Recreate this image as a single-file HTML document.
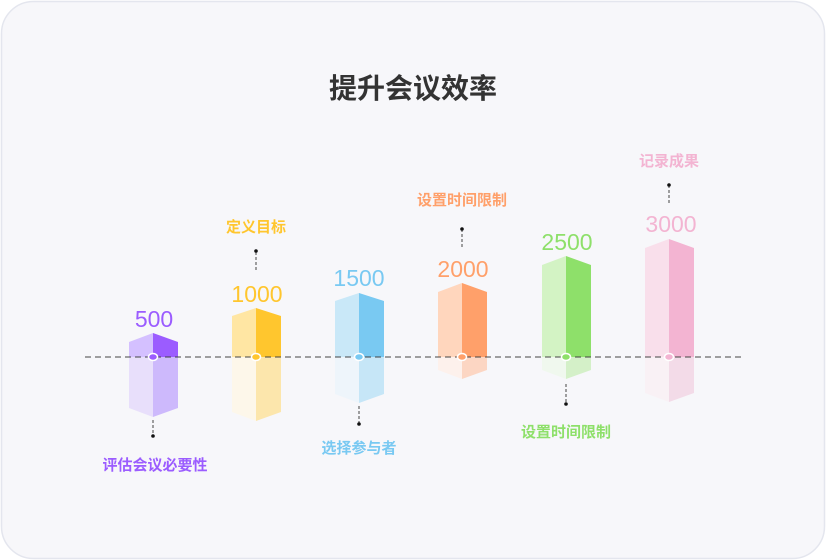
<!DOCTYPE html>
<html><head><meta charset="utf-8"><style>
html,body{margin:0;padding:0;background:#fff;width:826px;height:560px;overflow:hidden}
svg{display:block}
text{font-family:"Liberation Sans","Noto Sans CJK SC",sans-serif}
</style></head><body>
<svg width="826" height="560" viewBox="0 0 826 560" xmlns="http://www.w3.org/2000/svg">
<rect x="1.5" y="1.5" width="823" height="557" rx="32" fill="#f7f7fa" stroke="#e4e6ee" stroke-width="1.5"/>
<text x="413" y="98" text-anchor="middle" font-size="28" font-weight="bold" fill="#333">提升会议效率</text>

<g>
<polygon points="129,342 153,333 153,357 129,357" fill="#d4c0ff"/>
<polygon points="153,333 178,342 178,357 153,357" fill="#9b5cff"/>
<polygon points="129,357 153,357 153,417 129,408" fill="#e8dffb"/>
<polygon points="153,357 178,357 178,408 153,417" fill="#cdb9fc"/>
</g>
<g>
<polygon points="232,316 256,308 256,357 232,357" fill="#ffe6a3"/>
<polygon points="256,308 281,316 281,357 256,357" fill="#ffc62e"/>
<polygon points="232,357 256,357 256,421 232,412" fill="#fdf7ea"/>
<polygon points="256,357 281,357 281,412 256,421" fill="#fce6ac"/>
</g>
<g>
<polygon points="335,301 359,293 359,357 335,357" fill="#c9e8f8"/>
<polygon points="359,293 384,301 384,357 359,357" fill="#79c9f2"/>
<polygon points="335,357 359,357 359,403 335,394" fill="#eef5fb"/>
<polygon points="359,357 384,357 384,394 359,403" fill="#c6e6f7"/>
</g>
<g>
<polygon points="438,292 462,283 462,357 438,357" fill="#ffd6bd"/>
<polygon points="462,283 487,292 487,357 462,357" fill="#ffa06a"/>
<polygon points="438,357 462,357 462,379 438,370" fill="#fdf1ec"/>
<polygon points="462,357 487,357 487,370 462,379" fill="#fcd6c3"/>
</g>
<g>
<polygon points="542,265 566,256 566,357 542,357" fill="#d3f3c4"/>
<polygon points="566,256 591,265 591,357 566,357" fill="#8ee06a"/>
<polygon points="542,357 566,357 566,379 542,370" fill="#f0f8ee"/>
<polygon points="566,357 591,357 591,370 566,379" fill="#d4f0c8"/>
</g>
<g>
<polygon points="645,248 669,239 669,357 645,357" fill="#f9dfeb"/>
<polygon points="669,239 694,248 694,357 669,357" fill="#f3b4d2"/>
<polygon points="645,357 669,357 669,402 645,393" fill="#f9f1f5"/>
<polygon points="669,357 694,357 694,393 669,402" fill="#f3dbe8"/>
</g>

<line x1="85" y1="357" x2="742" y2="357" stroke="#444" stroke-width="1" stroke-dasharray="6,4"/>
<g stroke="#fff" stroke-width="1.5">
<ellipse cx="153" cy="357" rx="4.5" ry="3.5" fill="#9b5cff"/>
<ellipse cx="256" cy="357" rx="4.5" ry="3.5" fill="#ffc62e"/>
<ellipse cx="359" cy="357" rx="4.5" ry="3.5" fill="#79c9f2"/>
<ellipse cx="462" cy="357" rx="4.5" ry="3.5" fill="#ffa06a"/>
<ellipse cx="566" cy="357" rx="4.5" ry="3.5" fill="#8ee06a"/>
<ellipse cx="669" cy="357" rx="4.5" ry="3.5" fill="#f3b4d2"/>
</g>

<g font-size="23" text-anchor="middle">
<text x="154" y="327" fill="#9b5cff">500</text>
<text x="257" y="302" fill="#ffc62e">1000</text>
<text x="359" y="286" fill="#79c9f2">1500</text>
<text x="463" y="277" fill="#ffa06a">2000</text>
<text x="567" y="250" fill="#8ee06a">2500</text>
<text x="671" y="232" fill="#f3b4d2">3000</text>
</g>

<g stroke="#444" stroke-width="1" stroke-dasharray="3,2">
<line x1="153" y1="420" x2="153" y2="436"/>
<line x1="256" y1="252" x2="256" y2="270"/>
<line x1="359" y1="406" x2="359" y2="424"/>
<line x1="462" y1="229" x2="462" y2="248"/>
<line x1="566" y1="384" x2="566" y2="404"/>
<line x1="669" y1="185" x2="669" y2="205"/>
</g>
<g fill="#111">
<circle cx="153" cy="436" r="1.8"/>
<circle cx="256" cy="251" r="1.8"/>
<circle cx="359" cy="424" r="1.8"/>
<circle cx="462" cy="229" r="1.8"/>
<circle cx="566" cy="404" r="1.8"/>
<circle cx="669" cy="185" r="1.8"/>
</g>

<g font-size="15" font-weight="bold" text-anchor="middle">
<text x="155" y="470" fill="#9b5cff">评估会议必要性</text>
<text x="256" y="232" fill="#ffc62e">定义目标</text>
<text x="359" y="453" fill="#79c9f2">选择参与者</text>
<text x="462" y="205" fill="#ffa06a">设置时间限制</text>
<text x="566" y="437" fill="#8ee06a">设置时间限制</text>
<text x="669" y="166" fill="#f3b4d2">记录成果</text>
</g>
</svg>
</body></html>
